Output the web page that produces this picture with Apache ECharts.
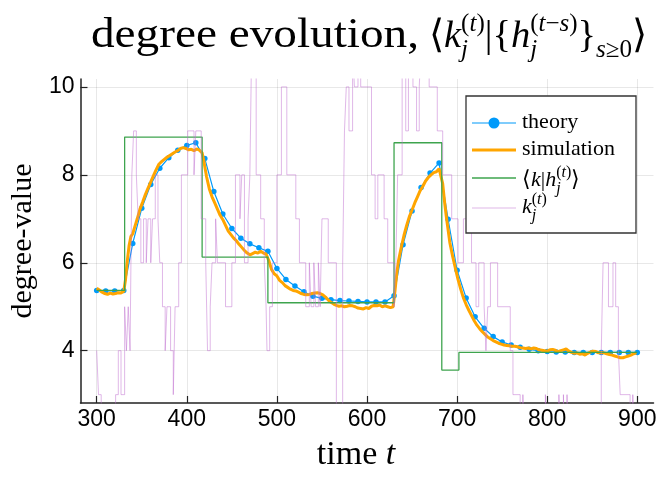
<!DOCTYPE html>
<html><head><meta charset="utf-8">
<script src="https://cdn.jsdelivr.net/npm/echarts@6/dist/echarts.min.js"></script>
<style>html,body{margin:0;padding:0;background:#fff}#c{width:659px;height:477px}</style>
</head><body><div id="c"></div>
<script>
// ---------------- data ----------------
const xTicks = [300, 400, 500, 600, 700, 800, 900];
const yTicks = [4, 6, 8, 10];

// theory (every 10 time steps)
const theoryT = [300,310,320,330,340,350,360,370,380,390,400,410,420,430,440,450,460,470,480,490,500,510,520,530,540,550,560,570,580,590,600,610,620,630,640,650,660,670,680,690,700,710,720,730,740,750,760,770,780,790,800,810,820,830,840,850,860,870,880,890,900];
const theoryV = [5.37,5.36,5.36,5.37,6.44,7.24,7.78,8.15,8.39,8.56,8.67,8.73,8.37,7.62,7.11,6.78,6.56,6.43,6.34,6.26,5.87,5.62,5.47,5.34,5.24,5.19,5.16,5.14,5.13,5.12,5.11,5.11,5.11,5.25,6.41,7.18,7.71,8.04,8.27,6.99,5.83,5.20,4.77,4.51,4.32,4.20,4.13,4.08,4.03,4.00,3.98,3.97,3.97,3.96,3.96,3.96,3.96,3.96,3.96,3.96,3.96];

// simulation
const simT = [300,303,306,309,312,315,318,321,324,327,330,332,334,336,338,340,342,345,348,351,354,357,360,363,366,369,372,375,378,381,384,387,390,393,396,399,402,405,408,411,414,417,419,422,425,428,431,434,437,440,443,446,449,452,455,458,461,464,467,470,473,476,479,482,485,488,491,494,497,500,503,506,509,512,515,518,521,524,527,530,533,536,539,542,545,548,551,554,557,560,563,566,569,572,575,578,581,584,587,590,593,596,599,602,605,608,611,614,617,620,623,626,629,631,633,635,638,641,644,647,650,653,656,659,662,665,668,671,674,677,680,682,684,686,688,690,692,695,698,701,704,707,710,713,716,719,722,725,728,731,734,737,740,743,746,749,752,755,758,761,764,767,770,773,776,779,782,785,788,791,794,797,800,803,806,809,812,815,818,821,824,827,830,833,836,839,842,845,848,851,854,857,860,863,866,869,872,875,878,881,884,887,890,893,896,899];
const simV = [5.42,5.38,5.33,5.30,5.28,5.31,5.29,5.30,5.32,5.31,5.35,5.62,6.05,6.40,6.60,6.66,6.80,7.00,7.22,7.38,7.55,7.70,7.84,7.98,8.12,8.24,8.30,8.35,8.40,8.44,8.48,8.52,8.55,8.60,8.62,8.60,8.57,8.58,8.55,8.59,8.56,8.50,8.30,7.95,7.68,7.50,7.36,7.22,7.08,6.98,6.85,6.72,6.64,6.56,6.50,6.42,6.35,6.28,6.22,6.18,6.21,6.24,6.22,6.26,6.22,6.20,6.05,5.85,5.75,5.70,5.60,5.55,5.48,5.44,5.40,5.37,5.36,5.33,5.30,5.28,5.27,5.28,5.30,5.31,5.32,5.30,5.27,5.22,5.15,5.10,5.06,5.03,5.01,5.02,5.00,5.01,5.03,5.02,5.00,4.97,4.96,4.95,4.98,4.96,5.01,5.03,5.02,5.04,5.00,5.02,5.00,4.98,5.00,5.35,5.75,6.05,6.35,6.62,6.85,7.05,7.20,7.36,7.50,7.64,7.74,7.86,7.94,8.00,8.05,8.07,8.14,8.16,7.80,7.40,7.05,6.75,6.45,6.15,5.88,5.62,5.40,5.20,5.05,4.92,4.80,4.68,4.58,4.50,4.43,4.37,4.31,4.27,4.23,4.20,4.17,4.15,4.13,4.12,4.11,4.10,4.10,4.09,4.07,4.06,4.05,4.06,4.04,4.06,4.05,4.02,4.01,4.00,3.99,4.02,4.03,4.01,3.98,4.00,4.02,4.04,3.99,3.96,3.94,3.95,3.92,3.93,3.90,3.94,3.97,3.99,3.98,3.95,3.96,3.95,3.93,3.91,3.90,3.88,3.86,3.84,3.84,3.86,3.88,3.90,3.93,3.95];

// <k | h_j^(t)>  (piecewise constant, value holds from each start time)
const condT = [300,331,417,490,630,683,702,900];
const condV = [5.37,8.86,6.13,5.09,8.73,3.56,3.96,3.96];

// k_j^(t)  (integer degree, value holds from each start time)
const kjT = [300,302,305,321,324,327,331,333,335,337,339,341,344,346,349,352,355,357,360,362,365,368,370,373,376,378,382,385,387,391,394,401,408,410,416,421,423,426,428,432,434,443,450,454,459,461,464,468,470,472,477,482,486,488,489,492,495,500,505,511,521,525,532,536,538,541,543,546,548,550,557,566,573,575,577,580,584,586,590,593,605,609,612,619,623,630,632,634,639,643,646,651,655,658,660,669,678,684,694,701,707,716,721,724,730,732,734,737,745,759,762,770,773,774,798,800,813,814,818,819,822,823,860,862,868,873,876,879,881,892,895,896,900];
const kjV = [4,3,2,3,4,3,5,4,5,4,8,9,8,7,6,7,6,7,6,7,8,7,6,5,4,5,4,3,5,6,8,9,8,9,7,6,4,5,6,7,6,5,6,8,7,8,6,7,8,11,8,7,6,5,4,5,6,8,10,8,7,6,5,6,5,6,5,6,5,7,6,2,6,9,10,9,11,10,11,10,8,7,8,7,6,5,6,8,11,9,11,10,9,10,11,10,9,8,7,6,7,6,5,6,5,4,5,6,5,4,3,2,3,2,3,2,3,2,3,2,3,2,4,6,5,6,5,4,3,2,3,2,2];

const colors = {theory:'#009AFA', simulation:'#FFA500', cond:'#3EA44E', kj:'rgba(194,113,210,0.5)'};

// ---------------- text helpers ----------------
const SERIF = '"Liberation Serif", "Times New Roman", serif';
const SANS = '"Liberation Sans", Arial, Helvetica, sans-serif';
const mctx = document.createElement('canvas').getContext('2d');
function fontStr(sz, it){ return (it ? 'italic ' : '') + sz + 'px ' + SERIF; }
function mw(txt, sz, it){ mctx.font = fontStr(sz, it); return mctx.measureText(txt).width; }
function mathText(items, x0, base, z, sx){
  sx = sx || 1;
  let x = x0; const out = [];
  const put = (run, xs) => {
    let xx = xs;
    run.forEach(t => {
      out.push({type:'text', x:xx, y: base + (t[3] || 0) - 0.34 * t[1], z:z, silent:true, scaleX: sx,
        style:{text:t[0], font:fontStr(t[1], t[2]), fill:'#000', align:'left', verticalAlign:'middle'}});
      xx += mw(t[0], t[1], t[2]) * sx;
    });
    return xx - xs;
  };
  items.forEach(it => {
    if (Array.isArray(it)) x += put([it], x);
    else { const w1 = put(it.stack[0], x); const w2 = put(it.stack[1], x); x += Math.max(w1, w2); }
  });
  return {els: out, width: x - x0};
}
function sup(parts, S, dy){ return parts.map(p => [p[0], S, p[1], dy]); }
function mathTitle(f){
  const M = 40 * f, S = 26 * f, up = -18 * f, dn = 9 * f;
  return [
    ['⟨', M, false], ['k', M, true],
    {stack:[sup([['(',false],['t',true],[')',false]], S, up), [['j', S, true, dn]]]},
    ['|', M, false], ['{', M, false], ['h', M, true],
    {stack:[sup([['(',false],['t',true],['−',false],['s',true],[')',false]], S, up), [['j', S, true, dn]]]},
    ['}', M, false], ['s', S, true, dn], ['≥0', S, false, dn], ['⟩', M, false]
  ];
}

// title: text part spans 91..419, math part 429..648
const titleText = 'degree evolution,';
const TM = 42;
const titleSX = 328 / mw(titleText, TM, false);
const titleBase = 50;
const titleEls = mathText([[titleText, TM, false]], 91, titleBase, 50, titleSX).els;
const mf = 219 / mathText(mathTitle(1), 0, 0, 0).width;
titleEls.push(...mathText(mathTitle(mf), 429, titleBase, 50).els);

// legend
const L = 22, LS = 16;
const lx = 466, ly = 96, lw = 170, lh = 137;
const sx1 = 472, sx2 = 516, tx = 522;
const legendEls = [
  {type:'rect', shape:{x:lx, y:ly, width:lw, height:lh}, style:{fill:'#fff', stroke:'#333', lineWidth:1.3}, z:100},
  {type:'line', shape:{x1:sx1, y1:123, x2:sx2, y2:123}, style:{stroke:colors.theory, lineWidth:1.2}, z:101},
  {type:'circle', shape:{cx:(sx1+sx2)/2, cy:123, r:5.5}, style:{fill:colors.theory}, z:101},
  {type:'line', shape:{x1:sx1, y1:150, x2:sx2, y2:150}, style:{stroke:colors.simulation, lineWidth:3}, z:101},
  {type:'line', shape:{x1:sx1, y1:178, x2:sx2, y2:178}, style:{stroke:colors.cond, lineWidth:1.3}, z:101},
  {type:'line', shape:{x1:sx1, y1:208, x2:sx2, y2:208}, style:{stroke:colors.kj, lineWidth:1}, z:101}
];
const kjSup = {stack:[sup([['(',false],['t',true],[')',false]], LS, -10), [['j', LS, true, 6]]]};
[
  [[['theory', L, false]], 130],
  [[['simulation', L, false]], 157],
  [[['⟨', L, false], ['k', L, true], ['|', L, false], ['h', L, true], kjSup, ['⟩', L, false]], 188],
  [[['k', L, true], kjSup], 215]
].forEach(e => { legendEls.push(...mathText(e[0], tx, e[1], 102).els); });

// ---------------- chart ----------------
const chart = echarts.init(document.getElementById('c'), null, {renderer:'canvas'});
const pairs = (T, V) => T.map((t, i) => [t, V[i]]);

chart.setOption({
  animation: false,
  backgroundColor: '#fff',
  grid: {left: 63, right: 2, top: 79, bottom: 70, containLabel: false},
  xAxis: {
    type: 'value', min: 282, max: 918,
    name: '{a|time }{b|t}', nameLocation: 'middle', nameGap: 35,
    nameTextStyle: {padding: [0, 22, 0, 0], rich: {a: {fontFamily: SERIF, fontSize: 34, color: '#000'}, b: {fontFamily: SERIF, fontSize: 34, fontStyle: 'italic', color: '#000'}}},
    axisLine: {show: true, lineStyle: {color: '#222', width: 1.5}},
    axisTick: {show: true, inside: true, length: 7, customValues: xTicks, lineStyle: {color: '#222', width: 1.2}},
    axisLabel: {customValues: xTicks, fontFamily: SANS, fontSize: 23, color: '#000', margin: 5},
    splitLine: {show: true, lineStyle: {color: 'rgba(0,0,0,0.09)', width: 1}}
  },
  yAxis: {
    type: 'value', min: 2.81, max: 10.18,
    name: 'degree-value', nameLocation: 'middle', nameGap: 31,
    nameTextStyle: {fontFamily: SERIF, fontSize: 30, color: '#000'},
    axisLine: {show: true, lineStyle: {color: '#222', width: 1.5}},
    axisTick: {show: true, inside: true, length: 7, customValues: yTicks, lineStyle: {color: '#222', width: 1.2}},
    axisLabel: {customValues: yTicks, fontFamily: SANS, fontSize: 23, color: '#000', margin: 6},
    splitLine: {show: true, lineStyle: {color: 'rgba(0,0,0,0.09)', width: 1}}
  },
  series: [
    {name: 'theory', type: 'line', data: pairs(theoryT, theoryV), symbol: 'circle', symbolSize: 5.5, showSymbol: true,
     itemStyle: {color: colors.theory}, lineStyle: {color: colors.theory, width: 1.2}, z: 2},
    {name: 'simulation', type: 'line', data: pairs(simT, simV), showSymbol: false, symbol: 'none',
     lineStyle: {color: colors.simulation, width: 3}, z: 3},
    {name: 'cond', type: 'line', data: pairs(condT, condV), step: 'end', showSymbol: false, symbol: 'none',
     lineStyle: {color: colors.cond, width: 1.3}, z: 4},
    {name: 'kj', type: 'line', data: pairs(kjT, kjV), step: 'end', showSymbol: false, symbol: 'none',
     lineStyle: {color: colors.kj, width: 1}, z: 5}
  ],
  graphic: titleEls.concat(legendEls)
});
</script></body></html>
